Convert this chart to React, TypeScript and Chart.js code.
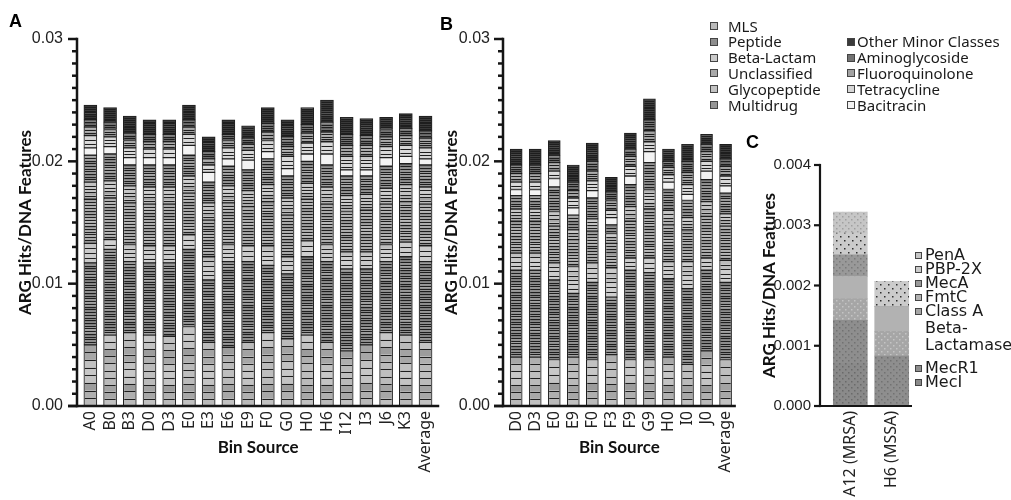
import React, { useEffect, useRef } from 'react';
import { Chart, registerables } from 'chart.js';

Chart.register(...registerables);

// ---------------- DATA (values in units of 1e-4 ARG hits / DNA feature) ----------------
const categoriesA = ['A0', 'B0', 'B3', 'D0', 'D3', 'E0', 'E3', 'E6', 'E9', 'F0', 'G0', 'H0', 'H6', 'I12', 'I3', 'J6', 'K3', 'Average'];
const mlsA = [50, 58, 60, 58, 57, 65, 52, 48, 52, 60, 55, 58, 52, 45, 50, 60, 58, 52];
const peptideA = [67, 70, 58, 59, 60, 63, 51, 70, 66, 55, 53, 64, 66, 67, 62, 58, 64, 66];
const betaLactamA = [16, 8, 14, 14, 14, 12, 19, 14, 13, 16, 14, 13, 14, 14, 14, 14, 12, 13];
const unclassifiedA = [36, 34, 34, 34, 34, 34, 30, 34, 32, 36, 34, 34, 33, 33, 34, 33, 33, 34];
const glycopeptideA = [14, 14, 14, 14, 14, 14, 14, 14, 13, 14, 14, 13, 14, 13, 13, 13, 14, 14];
const multidrugA = [22, 22, 17, 18, 18, 17, 17, 16, 17, 21, 18, 18, 18, 16, 15, 18, 17, 18];
const bacitracinA = [6, 6, 6, 6, 6, 8, 8, 6, 8, 6, 6, 6, 9, 5, 5, 7, 6, 5];
const tetracyclineA = [10, 8, 8, 7, 7, 9, 6, 9, 8, 9, 10, 9, 10, 11, 11, 9, 9, 9];
const fluoroquinoloneA = [7, 6, 6, 6, 6, 6, 5, 6, 5, 7, 8, 8, 8, 9, 9, 8, 8, 8];
const aminoglycosideA = [6, 6, 6, 6, 6, 6, 6, 5, 5, 7, 8, 7, 8, 9, 8, 6, 6, 6];
const otherMinorA = [12, 12, 14, 12, 12, 12, 12, 12, 10, 13, 14, 14, 18, 14, 14, 10, 12, 12];

const categoriesB = ['D0', 'D3', 'E0', 'E9', 'F0', 'F3', 'F9', 'G9', 'H0', 'I0', 'J0', 'Average'];
const mlsB = [40, 40, 38, 40, 38, 42, 38, 38, 40, 34, 45, 38];
const peptideB = [71, 71, 65, 52, 63, 47, 73, 71, 64, 62, 66, 63];
const betaLactamB = [14, 14, 14, 22, 16, 24, 10, 12, 14, 22, 10, 18];
const unclassifiedB = [26, 26, 30, 22, 26, 20, 30, 40, 30, 26, 34, 28];
const glycopeptideB = [10, 10, 12, 8, 10, 8, 12, 16, 12, 10, 12, 10];
const multidrugB = [11, 11, 20, 12, 17, 7, 18, 22, 17, 14, 18, 17];
const bacitracinB = [5, 5, 7, 6, 6, 6, 7, 9, 6, 5, 7, 6];
const tetracyclineB = [6, 6, 6, 8, 8, 6, 8, 8, 6, 8, 8, 8];
const fluoroquinoloneB = [7, 7, 7, 6, 8, 8, 8, 9, 6, 10, 8, 8];
const aminoglycosideB = [7, 7, 6, 7, 8, 7, 6, 9, 5, 9, 6, 6];
const otherMinorB = [13, 13, 12, 14, 15, 12, 13, 17, 10, 14, 8, 12];

const categoriesC = ['A12 (MRSA)', 'H6 (MSSA)'];
const mecIC = [7.0, 0];
const mecR1C = [7.2, 8.3];
const classAC = [3.6, 4.1];
const fmtCC = [3.7, 4.1];
const mecAC = [3.6, 0];
const pbp2xC = [3.6, 4.2];
const penAC = [3.5, 0];

const yTicksAB = [0, 100, 200, 300];
const yTicksC = [0, 10, 20, 30, 40];

// ---------------- STYLE ----------------
const CLASS_NAMES = ['MLS', 'Peptide', 'Beta-Lactam', 'Unclassified', 'Glycopeptide', 'Multidrug', 'Bacitracin', 'Tetracycline', 'Fluoroquinolone', 'Aminoglycoside', 'Other Minor Classes'];
const CLASS_COLORS = ['#bababa', '#8e8e8e', '#cacaca', '#a9a9a9', '#c2c2c2', '#959595', '#f3f3f3', '#d6d6d6', '#a2a2a2', '#727272', '#3a3a3a'];
const GENE_STEP = [6, 2.2, 4, 2.4, 2.8, 2.2, 8, 3, 2.2, 1.8, 1.6];
const TEXTURE = [1, 1, 0.6, 1, 1, 1, 0, 0.6, 1, 1, 1];
const SHADE = [0, 0.14, -0.1, 0.06, -0.16, 0.1, 0, -0.06, 0.2, -0.12];

const C_NAMES = ['MecI', 'MecR1', 'Class A Beta-Lactamase', 'FmtC', 'MecA', 'PBP-2X', 'PenA'];
const C_STYLE: [string, string, number][] = [
  ['#8a8a8a', '#6a6a6a', 3],
  ['#8e8e8e', '#727272', 3],
  ['#a6a6a6', '#c4c4c4', 3],
  ['#b2b2b2', '#b2b2b2', 3],
  ['#999999', '#7a7a7a', 3],
  ['#cbcbcb', '#2e2e2e', 4],
  ['#c6c6c6', '#a0a0a0', 3],
];

const tickFont = { family: 'Liberation Sans, Arial, sans-serif', size: 16 };
const tickFontC = { family: 'Liberation Sans, Arial, sans-serif', size: 15 };
const titleFont = { family: 'Lato, sans-serif', weight: 'bold' as const, size: 17 };
const labelFont = { family: 'Noto Sans, sans-serif', size: 16 };

// ---------------- PLUGINS ----------------
function axesPlugin(o: { major: number; minor: number; majorLen: number; minorLen: number; lw: number }) {
  return {
    id: 'customAxes',
    afterDraw(chart: any) {
      const { ctx, chartArea: a } = chart;
      const y = chart.scales.y;
      ctx.save();
      ctx.strokeStyle = '#151515';
      ctx.lineWidth = o.lw;
      const yTop = y.getPixelForValue(y.max);
      ctx.beginPath();
      ctx.moveTo(a.left, yTop - o.lw / 2);
      ctx.lineTo(a.left, a.bottom + o.lw / 2);
      ctx.stroke();
      ctx.beginPath();
      ctx.moveTo(a.left - o.majorLen, a.bottom);
      ctx.lineTo(a.right, a.bottom);
      ctx.stroke();
      const n = Math.round((y.max - y.min) / o.minor);
      for (let i = 0; i <= n; i++) {
        const v = y.min + i * o.minor;
        const py = y.getPixelForValue(v);
        const r = v / o.major;
        const isMajor = Math.abs(r - Math.round(r)) < 1e-6;
        const len = isMajor ? o.majorLen : o.minorLen;
        ctx.beginPath();
        ctx.moveTo(a.left - len, py);
        ctx.lineTo(a.left, py);
        ctx.stroke();
      }
      ctx.restore();
    },
  };
}

const stripesPlugin = {
  id: 'geneStripes',
  afterDatasetsDraw(chart: any) {
    const ctx = chart.ctx;
    const ys = chart.scales.y;
    const pxPerUnit = Math.abs(ys.getPixelForValue(0) - ys.getPixelForValue(1));
    chart.data.datasets.forEach((_ds: any, di: number) => {
      const meta = chart.getDatasetMeta(di);
      meta.data.forEach((el: any, bi: number) => {
        const { x, y, base, width } = el.getProps(['x', 'y', 'base', 'width'], true);
        const t = Math.min(y, base);
        const b = Math.max(y, base);
        const h = b - t;
        if (h < 2) return;
        const n = Math.max(1, Math.round(h / (GENE_STEP[di] * pxPerUnit)));
        const l = x - width / 2 + 1;
        const r = x + width / 2 - 1;
        ctx.save();
        for (let k = 0; k < n; k++) {
          const y0 = b - ((k + 1) * h) / n;
          const y1 = b - (k * h) / n;
          const s = SHADE[(k * 7 + di * 3 + bi * 5) % SHADE.length] * TEXTURE[di];
          if (s !== 0) {
            ctx.fillStyle = s > 0 ? `rgba(255,255,255,${s})` : `rgba(0,0,0,${-s})`;
            ctx.fillRect(l, y0 + 0.5, r - l, y1 - y0 - 1);
          }
          if (k > 0) {
            const py = Math.round(y1) + 0.5;
            ctx.strokeStyle = '#1e1e1e';
            ctx.lineWidth = 1;
            ctx.beginPath();
            ctx.moveTo(l, py);
            ctx.lineTo(r, py);
            ctx.stroke();
          }
        }
        ctx.restore();
      });
    });
  },
};

// ---------------- CONFIGS ----------------
function xScale(labels: string[], xMin: number, xMax: number, title: string | null) {
  return {
    type: 'linear',
    stacked: true,
    offset: false,
    min: xMin,
    max: xMax,
    grid: { display: false, drawTicks: false },
    border: { display: false },
    afterBuildTicks: (s: any) => {
      s.ticks = labels.map((_l, i) => ({ value: i }));
    },
    afterFit: (s: any) => {
      s.height = 94;
    },
    ticks: {
      autoSkip: false,
      minRotation: 90,
      maxRotation: 90,
      padding: 5,
      color: '#222',
      font: labelFont,
      callback: (v: number) => labels[v] ?? '',
    },
    title: title
      ? { display: true, text: title, color: '#111', font: titleFont, padding: { top: 0, bottom: 42 } }
      : { display: false },
  };
}

function yScale(max: number, stepSize: number, majors: number[], digits: number, yWidth: number, tickPad: number, titlePad: number, font: any) {
  return {
    type: 'linear',
    stacked: true,
    min: 0,
    max,
    grid: { display: false, drawTicks: false },
    border: { display: false },
    afterFit: (s: any) => {
      s.width = yWidth;
    },
    ticks: {
      stepSize,
      autoSkip: false,
      padding: tickPad,
      color: '#222',
      font,
      callback: (v: number) => (majors.includes(v) ? (v / 10000).toFixed(digits) : ''),
    },
    title: {
      display: true,
      text: 'ARG Hits/DNA Features',
      color: '#111',
      font: titleFont,
      padding: { top: titlePad, bottom: 0 },
    },
  };
}

function makeClassConfig(labels: string[], series: number[][], p: { yWidth: number; titlePad: number; tickPad: number; padRight: number; barThickness: number; xMin: number; xMax: number }) {
  return {
    type: 'bar',
    data: {
      datasets: series.map((vals, i) => ({
        label: CLASS_NAMES[i],
        data: vals.map((v, j) => ({ x: j, y: v })),
        backgroundColor: CLASS_COLORS[i],
        borderColor: '#1e1e1e',
        borderWidth: 1,
        borderSkipped: false,
        barThickness: p.barThickness,
      })),
    },
    options: {
      responsive: false,
      animation: false,
      events: [],
      layout: { padding: { top: 39, right: p.padRight, left: 0, bottom: 0 } },
      plugins: { legend: { display: false }, tooltip: { enabled: false } },
      scales: {
        x: xScale(labels, p.xMin, p.xMax, 'Bin Source'),
        y: yScale(300, 10, yTicksAB, 2, p.yWidth, p.tickPad, p.titlePad, tickFont),
      },
    },
    plugins: [stripesPlugin, axesPlugin({ major: 100, minor: 10, majorLen: 9, minorLen: 5, lw: 2.5 })],
  };
}

function dotPattern(base: string, dot: string, spacing: number) {
  const c = document.createElement('canvas');
  c.width = spacing * 2;
  c.height = spacing * 2;
  const g = c.getContext('2d')!;
  g.fillStyle = base;
  g.fillRect(0, 0, c.width, c.height);
  g.fillStyle = dot;
  g.fillRect(0, 0, 1.5, 1.5);
  g.fillRect(spacing, spacing, 1.5, 1.5);
  return g.createPattern(c, 'repeat');
}

const makeA = () =>
  makeClassConfig(
    categoriesA,
    [mlsA, peptideA, betaLactamA, unclassifiedA, glycopeptideA, multidrugA, bacitracinA, tetracyclineA, fluoroquinoloneA, aminoglycosideA, otherMinorA],
    { yWidth: 77, titlePad: 15, tickPad: 14, padRight: 7, barThickness: 13, xMin: -0.678, xMax: 17.695 }
  );

const makeB = () =>
  makeClassConfig(
    categoriesB,
    [mlsB, peptideB, betaLactamB, unclassifiedB, glycopeptideB, multidrugB, bacitracinB, tetracyclineB, fluoroquinoloneB, aminoglycosideB, otherMinorB],
    { yWidth: 73, titlePad: 11, tickPad: 13, padRight: 5, barThickness: 12, xMin: -0.693, xMax: 11.54 }
  );

const makeC = () => {
  const series = [mecIC, mecR1C, classAC, fmtCC, mecAC, pbp2xC, penAC];
  return {
    type: 'bar',
    data: {
      datasets: series.map((vals, i) => ({
        label: C_NAMES[i],
        data: vals.map((v, j) => ({ x: j, y: v })),
        backgroundColor: dotPattern(C_STYLE[i][0], C_STYLE[i][1], C_STYLE[i][2]),
        borderWidth: 0,
        barThickness: 34,
      })),
    },
    options: {
      responsive: false,
      animation: false,
      events: [],
      layout: { padding: { top: 165, right: 99, left: 0, bottom: 0 } },
      plugins: { legend: { display: false }, tooltip: { enabled: false } },
      scales: {
        x: xScale(categoriesC, -0.732, 1.49, null),
        y: yScale(40, 10, yTicksC, 3, 80, 9, 19, tickFontC),
      },
    },
    plugins: [axesPlugin({ major: 10, minor: 10, majorLen: 6, minorLen: 6, lw: 2.2 })],
  };
};

// ---------------- COMPONENTS ----------------
function ChartCanvas({ left, width, make }: { left: number; width: number; make: () => any }) {
  const ref = useRef<HTMLCanvasElement | null>(null);
  useEffect(() => {
    if (!ref.current) return;
    const chart = new Chart(ref.current, make());
    return () => chart.destroy();
  }, [make]);
  return <canvas ref={ref} width={width} height={500} style={{ position: 'absolute', left, top: 0, width, height: 500 }} />;
}

const legendACol1 = ['MLS', 'Peptide', 'Beta-Lactam', 'Unclassified', 'Glycopeptide', 'Multidrug'];
const legendACol2 = ['Other Minor Classes', 'Aminoglycoside', 'Fluoroquinolone', 'Tetracycline', 'Bacitracin'];
const legendCItems: [string, number][] = [
  ['PenA', 6],
  ['PBP-2X', 5],
  ['MecA', 4],
  ['FmtC', 3],
  ['Class A', 2],
  ['Beta-', -1],
  ['Lactamase', -1],
  ['MecR1', 1],
  ['MecI', 0],
];
const legendCRows = [255, 269, 283, 297, 311, 328, 345, 368, 382];

function Swatch({ x, cy, size, color }: { x: number; cy: number; size: number; color: string }) {
  return (
    <div
      style={{
        position: 'absolute',
        left: x,
        top: cy - size / 2,
        width: size,
        height: size,
        background: color,
        border: '1px solid #444',
        boxSizing: 'border-box',
      }}
    />
  );
}

function Label({ x, cy, text, size, family }: { x: number; cy: number; text: string; size: number; family: string }) {
  return (
    <div
      style={{
        position: 'absolute',
        left: x,
        top: cy - size * 0.7,
        fontSize: size,
        lineHeight: `${Math.round(size * 1.33)}px`,
        fontFamily: family,
        color: '#1a1a1a',
        whiteSpace: 'nowrap',
      }}
    >
      {text}
    </div>
  );
}

export default function App() {
  const rowY = (i: number) => 26 + i * 15.8;
  return (
    <div style={{ position: 'absolute', left: 0, top: 0, width: 1011, height: 500, background: '#fff', overflow: 'hidden' }}>
      <ChartCanvas left={0} width={450} make={makeA} />
      <ChartCanvas left={430} width={320} make={makeB} />
      <ChartCanvas left={740} width={271} make={makeC} />

      <div style={{ position: 'absolute', left: 9, top: 11, fontFamily: 'Liberation Sans, Arial', fontWeight: 'bold', fontSize: 18, lineHeight: '20px' }}>A</div>
      <div style={{ position: 'absolute', left: 440, top: 14, fontFamily: 'Liberation Sans, Arial', fontWeight: 'bold', fontSize: 18, lineHeight: '20px' }}>B</div>
      <div style={{ position: 'absolute', left: 746, top: 132, fontFamily: 'Liberation Sans, Arial', fontWeight: 'bold', fontSize: 18, lineHeight: '20px' }}>C</div>

      {legendACol1.map((name, i) => (
        <React.Fragment key={name}>
          <Swatch x={710} cy={rowY(i)} size={8} color={CLASS_COLORS[CLASS_NAMES.indexOf(name)]} />
          <Label x={728} cy={rowY(i)} text={name} size={15} family="Noto Sans, sans-serif" />
        </React.Fragment>
      ))}
      {legendACol2.map((name, i) => (
        <React.Fragment key={name}>
          <Swatch x={847} cy={rowY(i + 1)} size={8} color={CLASS_COLORS[CLASS_NAMES.indexOf(name)]} />
          <Label x={857} cy={rowY(i + 1)} text={name} size={15} family="Noto Sans, sans-serif" />
        </React.Fragment>
      ))}

      {legendCItems.map(([name, ci], i) => (
        <React.Fragment key={name}>
          {ci >= 0 && <Swatch x={915} cy={legendCRows[i]} size={7} color={C_STYLE[ci][0]} />}
          <Label x={925} cy={legendCRows[i]} text={name} size={16} family="DejaVu Sans, sans-serif" />
        </React.Fragment>
      ))}
    </div>
  );
}
